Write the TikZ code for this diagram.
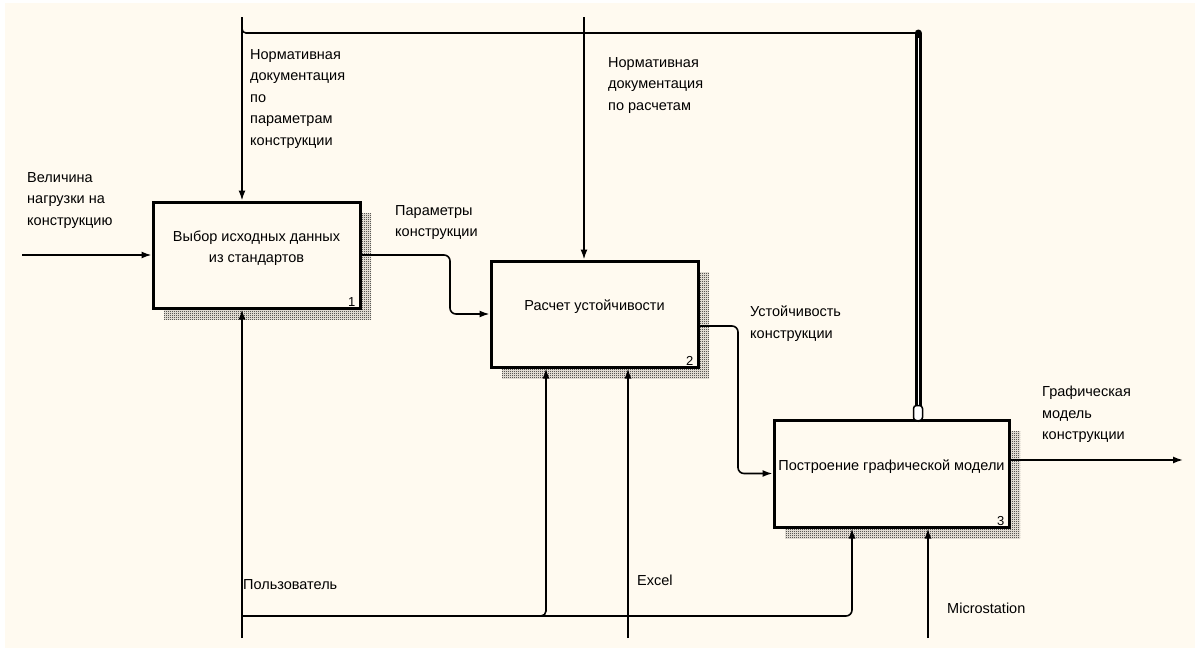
\documentclass[tikz,border=0pt]{standalone}
\usepackage{fontspec}
\setmainfont{Liberation Sans}
\usetikzlibrary{arrows.meta, shadows, patterns}
\definecolor{paper}{RGB}{255,250,240}

% fine checker for the box shadows
\pgfdeclarepatternformonly{checker}{\pgfqpoint{0pt}{0pt}}{\pgfqpoint{2pt}{2pt}}{\pgfqpoint{2pt}{2pt}}{%
    \pgfpathrectangle{\pgfqpoint{0pt}{0pt}}{\pgfqpoint{1.1pt}{1.1pt}}%
    \pgfpathrectangle{\pgfqpoint{1pt}{1pt}}{\pgfqpoint{1.1pt}{1.1pt}}%
    \pgfusepath{fill}}

\begin{document}
\begin{tikzpicture}[
        x=1pt, y=-1pt,
        block/.style={
            rectangle,
            draw,
            line width=3pt,
            fill=paper,
            align=center,
            minimum width=207pt,
            minimum height=106pt,
            text depth=17pt,
            font=\fontsize{14.5}{21}\selectfont,
            general shadow={shadow xshift=11pt, shadow yshift=-11pt, pattern=checker, pattern color=black}
        },
        arrow/.style={
            -{Latex[length=10pt, width=7pt]},
            line width=1.6pt
        },
        wire/.style={
            line width=1.6pt
        },
        lbl/.style={
            anchor=north west,
            inner sep=0pt,
            align=left,
            font=\fontsize{14.5}{21.5}\selectfont
        },
        num/.style={
            anchor=south east,
            inner xsep=6pt,
            inner ysep=3pt,
            font=\fontsize{13}{13}\selectfont
        }
    ]

        % paper
        \fill[white] (0,0) rectangle (1195,648);
        \fill[paper] (5,3) rectangle (1195,648);
        \useasboundingbox (0,0) rectangle (1195,648);

        % functions
        \node[block] (box1) at (256.5,255) {Выбор исходных данных\\из стандартов};
        \node[block] (box2) at (594.5,314) {Расчет устойчивости};
        \node[block, minimum width=235pt, minimum height=107pt] (box3) at (891.5,473.5) {Построение графической модели};

        \node[num] (n1) at (box1.south east) {1};
        \node[num] (n2) at (box2.south east) {2};
        \node[num] (n3) at (box3.south east) {3};

        % free ends
        \coordinate (in1) at (22,0 |- box1.west);
        \coordinate (ctl1) at (242,17);
        \coordinate (ctl2) at (584,17);
        \coordinate (tun) at (918,33);
        \coordinate (o2) at (box2.east |- 0,326);
        \coordinate (out3) at (1183,460);
        \coordinate (mech1) at (242,638);
        \coordinate (mech2) at (628,638);
        \coordinate (mech3) at (928,638);
        \coordinate (bus) at (242,616);

        % inputs and outputs
        \draw[arrow] (in1) -- (box1.west);
        \draw[arrow, rounded corners=6pt] (box1.east) -| (450,0 |- box2.west) -- (box2.west);
        \draw[arrow, rounded corners=6pt] (o2) -| (738,0 |- box3.west) -- (box3.west);
        \draw[arrow] (box3.east |- out3) -- (out3);

        % controls
        \draw[arrow] (ctl1) -- (ctl1 |- box1.north);
        \draw[arrow] (ctl2) -- (ctl2 |- box2.north);
        \draw[wire, rounded corners=4pt] (242,27) |- (tun);
        \draw[line width=7pt, line cap=round] (tun) -- (tun |- box3.north);
        \draw[white, line width=1.6pt] (918.5,38) -- (918.5,410);
        \node[rectangle, rounded corners=3pt, draw, fill=white, line width=1.5pt,
            minimum width=9pt, minimum height=15pt, inner sep=0pt] (tend) at (918,413) {};

        % mechanisms
        \draw[arrow] (mech1) -- (mech1 |- box1.south);
        \draw[arrow] (mech2) -- (mech2 |- box2.south);
        \draw[arrow] (mech3) -- (mech3 |- box3.south);
        \draw[arrow, rounded corners=6pt] (bus) -| (852,0 |- box3.south);
        \draw[arrow, rounded corners=5pt] (536,616) -| (546,0 |- box2.south);

        % arrow labels
        \node[lbl] (t_load) at (27,172) {Величина\\нагрузки на\\конструкцию};
        \node[lbl] (t_norm1) at (250,49) {Нормативная\\документация\\по\\параметрам\\конструкции};
        \node[lbl] (t_norm2) at (608,57) {Нормативная\\документация\\по расчетам};
        \node[lbl] (t_par) at (395,205) {Параметры\\конструкции};
        \node[lbl] (t_stab) at (750,306) {Устойчивость\\конструкции};
        \node[lbl] (t_model) at (1042,386) {Графическая\\модель\\конструкции};
        \node[lbl] (t_user) at (243,579) {Пользователь};
        \node[lbl] (t_excel) at (637,575) {Excel};
        \node[lbl] (t_ms) at (947,603) {Microstation};

    \end{tikzpicture}
\end{document}
